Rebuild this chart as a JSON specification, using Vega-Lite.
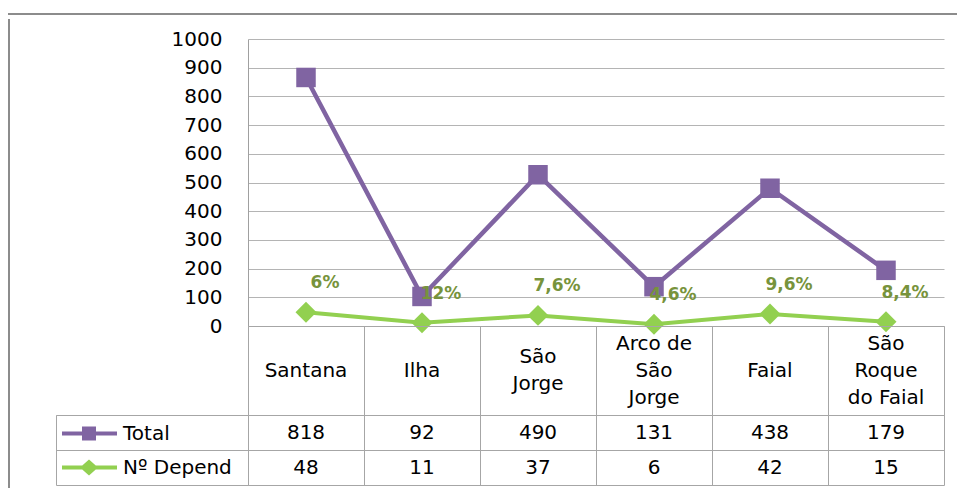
{
  "$schema": "https://vega.github.io/schema/vega-lite/v6.json",
  "padding": {"left": 8, "top": 8, "right": 0, "bottom": 0},
  "background": "#ffffff",
  "config": {
    "font": "DejaVu Sans",
    "view": {"stroke": null},
    "text": {"font": "DejaVu Sans"},
    "axis": {"labelFont": "DejaVu Sans"},
    "legend": {"labelFont": "DejaVu Sans"}
  },
  "datasets": {
    "d": [
      {"cat": "Santana", "label": "Santana", "series": "Total", "value": 818, "pct": ""},
      {"cat": "Santana", "label": "Santana", "series": "Nº Depend", "value": 48, "pct": "6%"},
      {"cat": "Ilha", "label": "Ilha", "series": "Total", "value": 92, "pct": ""},
      {"cat": "Ilha", "label": "Ilha", "series": "Nº Depend", "value": 11, "pct": "12%"},
      {"cat": "São Jorge", "label": "São\nJorge", "series": "Total", "value": 490, "pct": ""},
      {"cat": "São Jorge", "label": "São\nJorge", "series": "Nº Depend", "value": 37, "pct": "7,6%"},
      {"cat": "Arco de São Jorge", "label": "Arco de\nSão\nJorge", "series": "Total", "value": 131, "pct": ""},
      {"cat": "Arco de São Jorge", "label": "Arco de\nSão\nJorge", "series": "Nº Depend", "value": 6, "pct": "4,6%"},
      {"cat": "Faial", "label": "Faial", "series": "Total", "value": 438, "pct": ""},
      {"cat": "Faial", "label": "Faial", "series": "Nº Depend", "value": 42, "pct": "9,6%"},
      {"cat": "São Roque do Faial", "label": "São\nRoque\ndo Faial", "series": "Total", "value": 179, "pct": ""},
      {"cat": "São Roque do Faial", "label": "São\nRoque\ndo Faial", "series": "Nº Depend", "value": 15, "pct": "8,4%"}
    ]
  },
  "spacing": 0,
  "resolve": {"scale": {"color": "independent", "shape": "independent"}, "legend": {"color": "independent", "shape": "independent"}},
  "vconcat": [
    {
      "width": 949, "height": 2,
      "view": {"fill": "#8c8c8c", "stroke": null},
      "data": {"values": [{}]},
      "mark": {"type": "text"},
      "encoding": {"text": {"value": ""}}
    },
    {
      "spacing": 45,
      "resolve": {"scale": {"color": "independent", "shape": "independent"}, "legend": {"color": "independent", "shape": "independent"}},
      "hconcat": [
        {
          "width": 2, "height": 473,
          "view": {"fill": "#8c8c8c", "stroke": null},
          "data": {"values": [{}]},
          "mark": {"type": "text"},
          "encoding": {"text": {"value": ""}}
        },
        {
          "bounds": "flush",
          "spacing": 0,
          "columns": 2,
          "resolve": {"scale": {"color": "independent", "shape": "independent"}, "legend": {"color": "independent", "shape": "independent"}},
          "concat": [
            {
              "width": 192, "height": 20,
              "data": {"values": [{}]},
              "mark": {"type": "text"},
              "encoding": {"text": {"value": ""}}
            },
            {
              "width": 696, "height": 20,
              "data": {"values": [{}]},
              "mark": {"type": "text"},
              "encoding": {"text": {"value": ""}}
            },
            {
              "width": 192, "height": 287,
              "data": {"values": [{}]},
              "mark": {"type": "text"},
              "encoding": {"text": {"value": ""}}
            },
            {
              "width": 696, "height": 287,
              "data": {"name": "d"},
              "transform": [
                {"stack": "value", "groupby": ["cat"], "sort": [{"field": "series", "order": "ascending"}], "as": ["y0", "y1"]}
              ],
              "encoding": {
                "x": {
                  "field": "cat", "type": "nominal",
                  "sort": ["Santana", "Ilha", "São Jorge", "Arco de São Jorge", "Faial", "São Roque do Faial"],
                  "scale": {"type": "point", "padding": 0.5},
                  "axis": null
                },
                "y": {
                  "field": "y1", "type": "quantitative",
                  "scale": {"domain": [0, 1000], "nice": false},
                  "axis": {
                    "values": [0, 100, 200, 300, 400, 500, 600, 700, 800, 900, 1000],
                    "format": "d",
                    "grid": true, "gridColor": "#b4b4b4", "gridWidth": 1,
                    "ticks": false, "tickSize": 0,
                    "domain": true, "domainColor": "#a0a0a0", "domainWidth": 1,
                    "labelPadding": 26, "labelFontSize": 20, "labelColor": "#000000",
                    "title": null
                  }
                }
              },
              "layer": [
                {
                  "transform": [{"filter": "datum.series == 'Total'"}],
                  "mark": {"type": "line", "color": "#8064A2", "strokeWidth": 4.5}
                },
                {
                  "transform": [{"filter": "datum.series == 'Total'"}],
                  "mark": {"type": "point", "shape": "square", "filled": true, "color": "#8064A2", "size": 380, "opacity": 1}
                },
                {
                  "transform": [{"filter": "datum.series == 'Nº Depend'"}],
                  "mark": {"type": "line", "color": "#92D050", "strokeWidth": 4}
                },
                {
                  "transform": [{"filter": "datum.series == 'Nº Depend'"}],
                  "mark": {"type": "point", "shape": "diamond", "filled": true, "color": "#92D050", "size": 440, "opacity": 1}
                },
                {
                  "transform": [{"filter": "datum.series == 'Nº Depend'"}],
                  "mark": {"type": "text", "color": "#77933C", "fontSize": 17, "fontWeight": "bold", "dx": 19, "dy": -29, "align": "center", "baseline": "middle"},
                  "encoding": {"text": {"field": "pct"}}
                }
              ]
            },
            {
              "width": 192, "height": 89,
              "data": {"values": [{}]},
              "mark": {"type": "text"},
              "encoding": {"text": {"value": ""}}
            },
            {
              "width": 696, "height": 89,
              "data": {"name": "d"},
              "transform": [{"filter": "datum.series == 'Total'"}],
              "view": {"stroke": "#a6a6a6", "strokeWidth": 1},
              "encoding": {
                "x": {
                  "field": "cat", "type": "nominal",
                  "sort": ["Santana", "Ilha", "São Jorge", "Arco de São Jorge", "Faial", "São Roque do Faial"],
                  "scale": {"type": "band", "paddingInner": 0, "paddingOuter": 0},
                  "axis": {"grid": true, "gridColor": "#a6a6a6", "bandPosition": 0, "labels": false, "ticks": false, "domain": false, "title": null}
                },
                "text": {"field": "label"}
              },
              "layer": [
                {
                  "transform": [{"filter": "length(split(datum.label, '\\n')) == 1"}],
                  "mark": {"type": "text", "fontSize": 20, "lineBreak": "\n", "lineHeight": 27, "baseline": "middle", "align": "center", "color": "#000000"}
                },
                {
                  "transform": [{"filter": "length(split(datum.label, '\\n')) == 2"}],
                  "mark": {"type": "text", "fontSize": 20, "lineBreak": "\n", "lineHeight": 27, "baseline": "middle", "align": "center", "color": "#000000", "dy": -13.5}
                },
                {
                  "transform": [{"filter": "length(split(datum.label, '\\n')) == 3"}],
                  "mark": {"type": "text", "fontSize": 20, "lineBreak": "\n", "lineHeight": 27, "baseline": "middle", "align": "center", "color": "#000000", "dy": -27}
                }
              ]
            },
            {
              "width": 192, "height": 70,
              "data": {"name": "d"},
              "transform": [{"filter": "datum.cat == 'Santana'"}],
              "view": {"stroke": "#a6a6a6", "strokeWidth": 1},
              "mark": {"type": "point", "filled": true, "opacity": 0},
              "encoding": {
                "y": {
                  "field": "series", "type": "nominal",
                  "sort": ["Total", "Nº Depend"],
                  "scale": {"type": "band", "paddingInner": 0, "paddingOuter": 0},
                  "axis": {"grid": true, "gridColor": "#a6a6a6", "bandPosition": 0, "labels": false, "ticks": false, "domain": false, "title": null}
                },
                "color": {
                  "field": "series", "type": "nominal",
                  "scale": {"domain": ["Total", "Nº Depend"], "range": ["#8064A2", "#92D050"]},
                  "legend": {"orient": "none", "legendX": 23, "legendY": 8.5, "title": null, "padding": 0, "labelFontSize": 20, "labelColor": "#000000", "labelOffset": 24, "symbolSize": 400, "symbolOpacity": 1, "symbolStrokeWidth": 0, "rowPadding": 14, "labelLimit": 300}
                },
                "shape": {
                  "field": "series", "type": "nominal",
                  "scale": {"domain": ["Total", "Nº Depend"], "range": ["M-2.7,-0.2H2.8V0.2H-2.7Z M-0.7,-0.7H0.7V0.7H-0.7Z", "M-2.7,-0.2H2.8V0.2H-2.7Z M-0.9,0L0,-0.8L0.9,0L0,0.8Z"]},
                  "legend": {"orient": "none", "legendX": 23, "legendY": 8.5, "title": null, "padding": 0, "labelFontSize": 20, "labelColor": "#000000", "labelOffset": 24, "symbolSize": 400, "symbolOpacity": 1, "symbolStrokeWidth": 0, "rowPadding": 14, "labelLimit": 300}
                }
              }
            },
            {
              "width": 696, "height": 70,
              "data": {"name": "d"},
              "view": {"stroke": "#a6a6a6", "strokeWidth": 1},
              "mark": {"type": "text", "fontSize": 20, "baseline": "middle", "align": "center", "color": "#000000"},
              "encoding": {
                "x": {
                  "field": "cat", "type": "nominal",
                  "sort": ["Santana", "Ilha", "São Jorge", "Arco de São Jorge", "Faial", "São Roque do Faial"],
                  "scale": {"type": "band", "paddingInner": 0, "paddingOuter": 0},
                  "axis": {"grid": true, "gridColor": "#a6a6a6", "bandPosition": 0, "labels": false, "ticks": false, "domain": false, "title": null}
                },
                "y": {
                  "field": "series", "type": "nominal",
                  "sort": ["Total", "Nº Depend"],
                  "scale": {"type": "band", "paddingInner": 0, "paddingOuter": 0},
                  "axis": {"grid": true, "gridColor": "#a6a6a6", "bandPosition": 0, "labels": false, "ticks": false, "domain": false, "title": null}
                },
                "text": {"field": "value"}
              }
            }
          ]
        }
      ]
    }
  ]
}
